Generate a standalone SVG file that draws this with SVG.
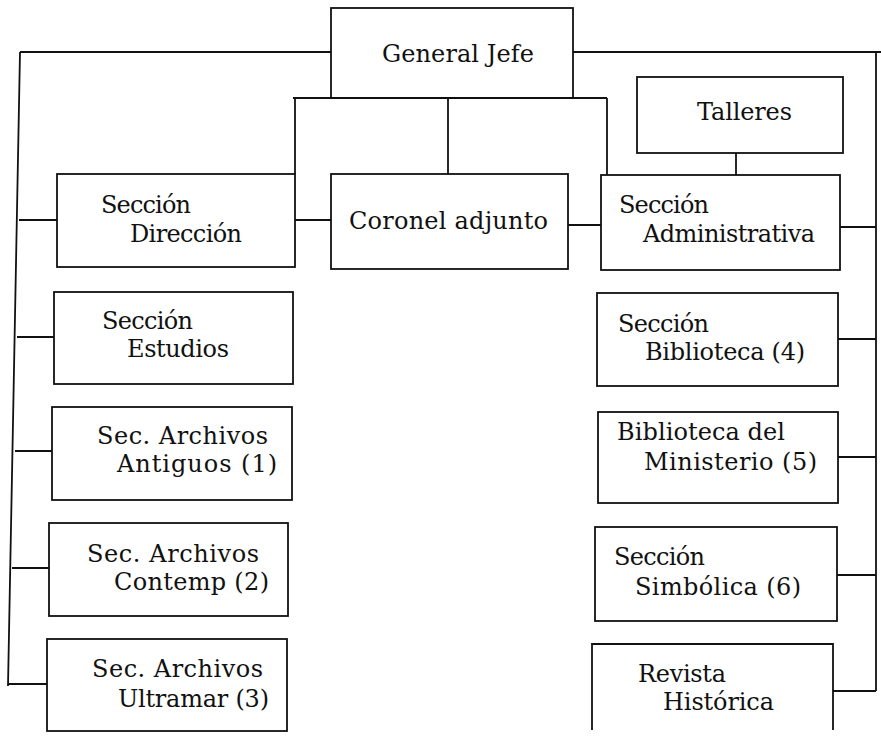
<svg xmlns="http://www.w3.org/2000/svg" width="881" height="736" viewBox="0 0 881 736">
<style>
.b{fill:none;stroke:#111;stroke-width:1.8}
.c{fill:none;stroke:#111;stroke-width:1.8}
text{font-family:"DejaVu Serif","Liberation Serif","Times New Roman",serif;font-size:24px;fill:#111}
</style>
<rect width="881" height="736" fill="#fff"/>
<g id="connectors">
<path class="c" d="M20,52 H331 M20,52 L8,686"/>
<path class="c" d="M19,220 H57 M17,337 H54 M15,451 H52 M12,568 H49 M8,684 H47"/>
<path class="c" d="M573,52 H881 M876,52 V691"/>
<path class="c" d="M840,227 H876 M838,339 H876 M838,457 H876 M837,575 H876 M833,691 H876"/>
<path class="c" d="M293,98 H607 M295,98 V174 M448,98 V174 M607,98 V175"/>
<path class="c" d="M295,220 H331 M568,225 H601 M736,153 V175"/>
</g>
<g id="general-jefe"><rect class="b" x="331" y="8" width="242" height="90"/><text x="382" y="62" textLength="152">General Jefe</text></g>
<g id="talleres"><rect class="b" x="637" y="77" width="206" height="76"/><text x="697" y="120" textLength="95">Talleres</text></g>
<g id="seccion-direccion"><rect class="b" x="57" y="174" width="238" height="93"/><text x="101" y="213" textLength="90">Sección</text><text x="130" y="242" textLength="112">Dirección</text></g>
<g id="coronel-adjunto"><rect class="b" x="331" y="174" width="237" height="95"/><text x="349" y="229" textLength="199">Coronel adjunto</text></g>
<g id="seccion-administrativa"><rect class="b" x="601" y="175" width="239" height="95"/><text x="619" y="213" textLength="90">Sección</text><text x="643" y="242" textLength="172">Administrativa</text></g>
<g id="seccion-estudios"><rect class="b" x="54" y="292" width="239" height="92"/><text x="102" y="329" textLength="91">Sección</text><text x="127" y="357" textLength="102">Estudios</text></g>
<g id="archivos-antiguos"><rect class="b" x="52" y="407" width="240" height="93"/><text x="97" y="444" textLength="171">Sec.  Archivos</text><text x="117" y="472" textLength="160">Antiguos (1)</text></g>
<g id="archivos-contemp"><rect class="b" x="49" y="523" width="239" height="93"/><text x="87" y="562" textLength="172">Sec.  Archivos</text><text x="114" y="590" textLength="155">Contemp (2)</text></g>
<g id="archivos-ultramar"><rect class="b" x="47" y="639" width="240" height="92"/><text x="92" y="677" textLength="171">Sec.  Archivos</text><text x="118" y="707" textLength="151">Ultramar (3)</text></g>
<g id="seccion-biblioteca"><rect class="b" x="597" y="293" width="241" height="93"/><text x="618" y="332" textLength="91">Sección</text><text x="645" y="360" textLength="160">Biblioteca (4)</text></g>
<g id="biblioteca-ministerio"><rect class="b" x="598" y="412" width="240" height="91"/><text x="617" y="440" textLength="168">Biblioteca del</text><text x="644" y="470" textLength="173">Ministerio (5)</text></g>
<g id="seccion-simbolica"><rect class="b" x="595" y="527" width="242" height="94"/><text x="614" y="565" textLength="91">Sección</text><text x="635" y="595" textLength="166">Simbólica (6)</text></g>
<g id="revista-historica"><path class="b" d="M592,730 V644 H833 V730"/><text x="638" y="682" textLength="88">Revista</text><text x="663" y="710" textLength="111">Histórica</text></g>
</svg>
